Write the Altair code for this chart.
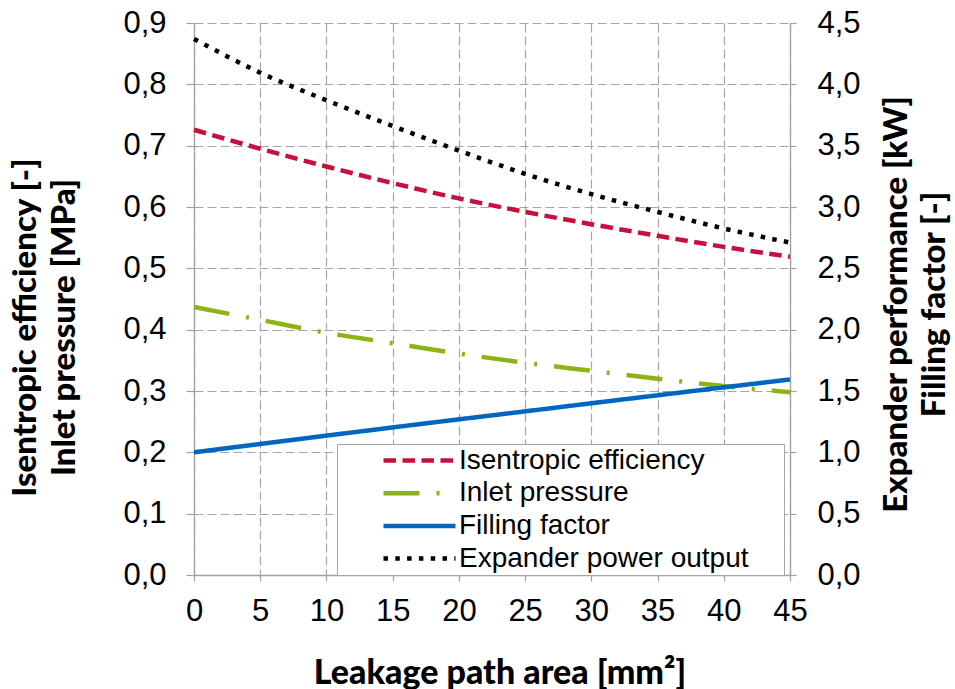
import altair as alt
import pandas as pd

# ---------------- data ----------------
area = [0, 5, 10, 15, 20, 25, 30, 35, 40, 45]
isentropic_eff = [0.726, 0.695, 0.666, 0.639, 0.614, 0.592, 0.572, 0.553, 0.535, 0.519]
inlet_pressure = [0.437, 0.416, 0.395, 0.378, 0.361, 0.346, 0.333, 0.320, 0.308, 0.298]
filling_factor = [1.000, 1.068, 1.136, 1.203, 1.269, 1.334, 1.400, 1.465, 1.530, 1.594]
power_output = [4.370, 4.095, 3.870, 3.660, 3.460, 3.270, 3.105, 2.960, 2.825, 2.710]

series_names = ["Isentropic efficiency", "Inlet pressure", "Filling factor", "Expander power output"]
series_colors = ["#C8103C", "#8DB414", "#0066C0", "#000000"]
series_dashes = [[12.5, 6.5], [36, 17, 3, 17], [1, 0], [4.5, 7.3]]

left_ticks = [0.0, 0.1, 0.2, 0.3, 0.4, 0.5, 0.6, 0.7, 0.8, 0.9]
right_ticks = [0.0, 0.5, 1.0, 1.5, 2.0, 2.5, 3.0, 3.5, 4.0, 4.5]
x_ticks = [0, 5, 10, 15, 20, 25, 30, 35, 40, 45]

left_title = ["Isentropic efficiency [-]", "Inlet pressure [MPa]"]
right_title = ["Expander performance [kW]", "Filling factor [-]"]
x_title = "Leakage path area [mm²]"

# ---------------- tables ----------------
rows = []
for name, vals in zip(series_names, [isentropic_eff, inlet_pressure, filling_factor, power_output]):
    for a, v in zip(area, vals):
        rows.append({"area": a, "value": v, "series": name})
df = pd.DataFrame(rows)

GRID = "#A6A6A6"
AXIS = "#A0A0A0"
TITLE_FONT = "Lato"
LABEL_FONT = "Liberation Sans"
TICK_FS = 31
comma_fmt = "replace(format(datum.value, '.1f'), '.', ',')"

legend = alt.Legend(
    title="\u00a0",
    titleOrient="right",
    titlePadding=33,
    titleFontSize=10,
    orient="none",
    legendX=143,
    legendY=421,
    fillColor="white",
    strokeColor="#A6A6A6",
    padding=2,
    rowPadding=3.7,
    symbolType="M-3,0H3",
    symbolSize=576,
    symbolStrokeWidth=4.5,
    symbolOffset=66,
    labelOffset=25,
    labelFont=LABEL_FONT,
    labelFontSize=28,
    labelColor="black",
    labelLimit=600,
)

color_enc = alt.Color("series:N", scale=alt.Scale(domain=series_names, range=series_colors), legend=legend)
dash_enc = alt.StrokeDash("series:N", scale=alt.Scale(domain=series_names, range=series_dashes), legend=legend)

x_axis = alt.Axis(
    values=x_ticks, title=x_title, grid=True, gridColor=GRID, gridDash=[9, 4], gridWidth=1.2,
    domainColor=AXIS, domainWidth=1.3, tickColor=AXIS, tickSize=6, tickWidth=1.2,
    labelFont=LABEL_FONT, labelFontSize=TICK_FS, labelColor="black", labelPadding=15,
    labelFlush=False,
    titleFont=TITLE_FONT, titleFontWeight=900, titleFontSize=34, titleColor="black",
    titleX=305.5, titleY=108, titleAlign="center", titleBaseline="alphabetic",
)
x_enc = alt.X("area:Q", scale=alt.Scale(domain=[0, 45], nice=False), axis=x_axis)

left = alt.Chart(df).transform_filter(
    alt.FieldOneOfPredicate(field="series", oneOf=series_names[:2])
).mark_line(strokeWidth=4.5, strokeCap="butt", interpolate="monotone").encode(
    x=x_enc,
    y=alt.Y("value:Q", scale=alt.Scale(domain=[0, 0.9], nice=False, zero=True),
            axis=alt.Axis(
                orient="left", values=left_ticks, labelExpr=comma_fmt, title=left_title,
                grid=True, gridColor=GRID, gridDash=[9, 4], gridWidth=1.2,
                domainColor=AXIS, domainWidth=1.3, tickColor=AXIS, tickSize=8, tickWidth=1.2,
                labelFont=LABEL_FONT, labelFontSize=TICK_FS, labelColor="black", labelPadding=20,
                labelFlush=False,
                titleFont=TITLE_FONT, titleFontWeight=900, titleFontSize=33, titleColor="black",
                titleAngle=270, titleX=-159, titleY=304, titleAlign="center",
                titleBaseline="alphabetic", titleLineHeight=39,
            )),
    color=color_enc,
    strokeDash=dash_enc,
)

right = alt.Chart(df).transform_filter(
    alt.FieldOneOfPredicate(field="series", oneOf=series_names[2:])
).mark_line(strokeWidth=4.5, strokeCap="butt", interpolate="monotone").encode(
    x=x_enc,
    y=alt.Y("value:Q", scale=alt.Scale(domain=[0, 4.5], nice=False, zero=True),
            axis=alt.Axis(
                orient="right", values=right_ticks, labelExpr=comma_fmt, title=right_title,
                grid=False,
                domainColor=AXIS, domainWidth=1.3, tickColor=AXIS, tickSize=6, tickWidth=1.2,
                labelFont=LABEL_FONT, labelFontSize=TICK_FS, labelColor="black", labelPadding=21,
                labelFlush=False,
                titleFont=TITLE_FONT, titleFontWeight=900, titleFontSize=33, titleColor="black",
                titleAngle=270, titleX=116, titleY=281, titleAlign="center",
                titleBaseline="alphabetic", titleLineHeight=38,
            )),
    color=color_enc,
    strokeDash=dash_enc,
)

chart = alt.layer(left, right).resolve_scale(y="independent").properties(
    width=596,
    height=552,
    autosize=alt.AutoSizeParams(type="none"),
    padding={"left": 194, "top": 23, "right": 165, "bottom": 114},
    background="white",
).configure_view(stroke=None)

chart.save("out.html", embed_options={"renderer": "svg", "actions": False})
